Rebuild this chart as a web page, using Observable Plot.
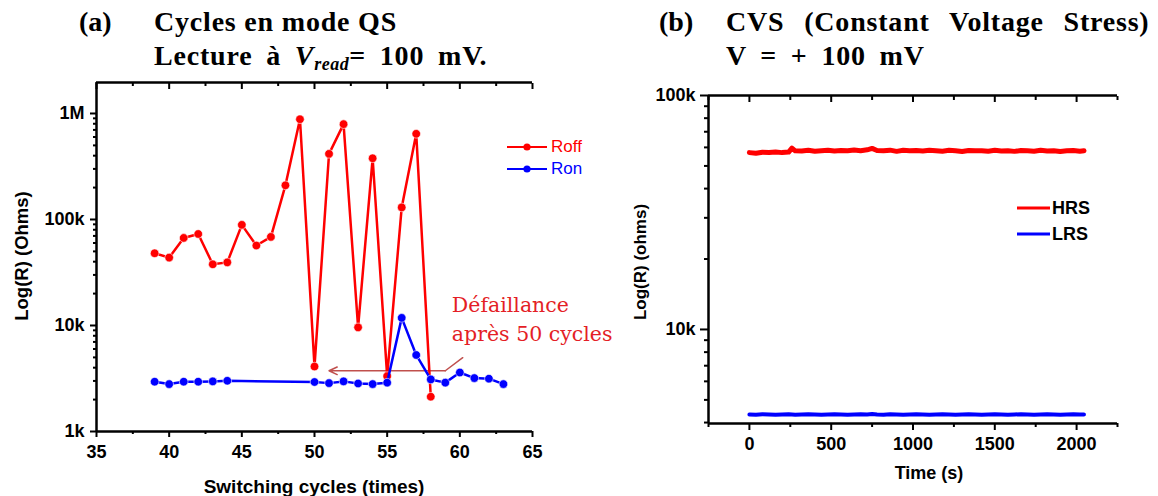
<!DOCTYPE html>
<html><head><meta charset="utf-8">
<script src="https://cdn.jsdelivr.net/npm/d3@7"></script>
<script src="https://cdn.jsdelivr.net/npm/@observablehq/plot@0.6"></script>
<style>
body{margin:0;background:#fff;}
#root{position:relative;width:1158px;height:496px;overflow:hidden;background:#fff;font-family:"Liberation Sans",Arial,sans-serif;}
.abs{position:absolute;white-space:nowrap;}
.ttl{font-family:"Liberation Serif","Times New Roman",serif;font-weight:bold;font-size:28px;color:#000;line-height:31px;height:31px;letter-spacing:0.8px;}
.lab{font-family:"Liberation Sans",Arial,sans-serif;font-weight:bold;color:#000;}
</style></head>
<body><div id="root"></div>
<script>
// ---------- Panel (a) data ----------
const roffCycles = [39,40,41,42,43,44,45,46,47,48,49,50,51,52,53,54,55,56,57,58];
const roffValues = [48000,43700,67000,73000,37800,39400,89000,56800,68500,210000,883000,4100,416000,793000,9600,378000,3330,130000,643000,2130];
const ronCycles = [39,40,41,42,43,44,50,51,52,53,54,55,56,57,58,59,60,61,62,63];
const ronValues = [2950,2800,2950,2950,2970,3010,2930,2860,2970,2840,2800,2890,11800,5270,3100,2890,3600,3190,3150,2800];
const xTicksA = [35,40,45,50,55,60,65];
const xMinorA = [37.5,42.5,47.5,52.5,57.5,62.5];
const yTicksA = [1e3,1e4,1e5,1e6];
const yTickLabelsA = ["1k","10k","100k","1M"];
const yMinorA = [2e3,3e3,4e3,5e3,6e3,7e3,8e3,9e3,2e4,3e4,4e4,5e4,6e4,7e4,8e4,9e4,2e5,3e5,4e5,5e5,6e5,7e5,8e5,9e5];
const xDomainA = [35,65];
const yDomainA = [1000,1.96e6];
const annotText = ["Défaillance","après 50 cycles"];
const annotTextX = [59.45,59.45];
const annotTextY = [15400,8300];
const annotLeaderX = [60.2,59.0];
const annotLeaderY = [4970,3740];
const annotArrow = {x1:59.0, y1:3740, x2:51.0, y2:3740};

// ---------- Panel (b) data ----------
const timeS = [0,40,80,120,160,200,240,260,280,320,360,400,440,480,520,560,600,640,680,720,750,780,820,860,900,940,980,1020,1060,1100,1140,1180,1220,1260,1300,1340,1380,1420,1460,1500,1540,1580,1620,1660,1700,1740,1780,1820,1860,1900,1940,1980,2020,2045];
const hrsValues = [57000,56600,57200,57100,57400,57000,57300,59600,58000,57900,58300,57800,58100,58400,57900,58200,58000,58500,58100,58600,59400,58200,58000,58400,57700,58300,58100,58200,57900,58400,58100,57800,58300,58000,57600,58200,58000,58100,57800,58300,57900,58100,57700,58200,58000,57800,58300,57900,58100,57600,58000,58200,57800,58100];
const lrsValues = [4330,4320,4340,4330,4320,4330,4340,4330,4320,4330,4340,4330,4320,4330,4340,4330,4320,4330,4340,4330,4350,4330,4320,4340,4330,4320,4330,4340,4330,4320,4330,4340,4330,4320,4330,4340,4330,4320,4330,4340,4330,4320,4330,4340,4330,4320,4330,4340,4330,4320,4330,4340,4330,4330];
const xTicksB = [0,500,1000,1500,2000];
const xMinorB = [-250,250,750,1250,1750,2250];
const yTicksB = [1e4,1e5];
const yTickLabelsB = ["10k","100k"];
const yMinorB = [4e3,5e3,6e3,7e3,8e3,9e3,2e4,3e4,4e4,5e4,6e4,7e4,8e4,9e4];
const xDomainB = [-250,2250];
const yDomainB = [3963,1e5];

const root = document.getElementById("root");
const axisStyle = {fontFamily:"Liberation Sans, Arial, sans-serif", fontSize:"18px", fontWeight:"bold", color:"#000", background:"transparent", overflow:"visible"};

// ---------- Chart (a) ----------
const roff = roffCycles.map((c,i)=>({x:c,y:roffValues[i]}));
const ron = ronCycles.map((c,i)=>({x:c,y:ronValues[i]}));
const fmtA = d => yTickLabelsA[yTicksA.indexOf(d)];
const chartA = Plot.plot({
  width:580, height:426, marginLeft:96, marginRight:48, marginTop:12, marginBottom:65,
  style: axisStyle,
  x:{domain:xDomainA},
  y:{type:"log", domain:yDomainA},
  marks:[
    Plot.axisX({ticks:xTicksA, tickFormat:d=>String(d), tickSize:6, tickPadding:8, strokeWidth:2, label:null, fontSize:18}),
    Plot.axisX({ticks:xMinorA, tickSize:3, tickFormat:()=>"", strokeWidth:2, label:null}),
    Plot.axisX({anchor:"top", ticks:xTicksA, tickSize:-6, tickFormat:()=>"", strokeWidth:2, label:null}),
    Plot.axisX({anchor:"top", ticks:xMinorA, tickSize:-3, tickFormat:()=>"", strokeWidth:2, label:null}),
    Plot.axisY({ticks:yTicksA, tickFormat:fmtA, tickSize:6, tickPadding:6, strokeWidth:2, label:null, fontSize:18}),
    Plot.axisY({ticks:yMinorA, tickSize:3, tickFormat:()=>"", strokeWidth:2, label:null}),
    Plot.ruleY([yDomainA[0]], {stroke:"#000", strokeWidth:2.5}),
    Plot.ruleY([yDomainA[1]], {stroke:"#000", strokeWidth:2.5}),
    Plot.ruleX([xDomainA[0]], {stroke:"#000", strokeWidth:2.5}),
    Plot.line(annotLeaderX.map((x,i)=>({x, y:annotLeaderY[i]})), {x:"x", y:"y", stroke:"#c0504d", strokeWidth:1.5}),
    Plot.arrow([annotArrow], {x1:"x1", y1:"y1", x2:"x2", y2:"y2", stroke:"#c0504d", strokeWidth:1.5, headLength:9, headAngle:50}),
    Plot.line(roff, {x:"x", y:"y", stroke:"#ff0000", strokeWidth:2.5}),
    Plot.dot(roff, {x:"x", y:"y", r:4.3, fill:"#ff0000", stroke:"#fff", strokeWidth:0.6}),
    Plot.line(ron, {x:"x", y:"y", stroke:"#0000ff", strokeWidth:2.5}),
    Plot.dot(ron, {x:"x", y:"y", r:4.3, fill:"#0000ff", stroke:"#fff", strokeWidth:0.6}),
    Plot.text(annotText, {x:(d,i)=>annotTextX[i], y:(d,i)=>annotTextY[i], text:d=>d, textAnchor:"start", fill:"#e41e26", fontFamily:"DejaVu Serif, serif", fontWeight:"normal", fontSize:20.5})
  ]
});
chartA.style.position = "absolute"; chartA.style.left = "0px"; chartA.style.top = "70px";
root.appendChild(chartA);

// ---------- Chart (b) ----------
const hrs = timeS.map((t,i)=>({x:t,y:hrsValues[i]}));
const lrs = timeS.map((t,i)=>({x:t,y:lrsValues[i]}));
const fmtB = d => yTickLabelsB[yTicksB.indexOf(d)];
const chartB = Plot.plot({
  width:578, height:426, marginLeft:128, marginRight:41, marginTop:25, marginBottom:73,
  style: axisStyle,
  x:{domain:xDomainB},
  y:{type:"log", domain:yDomainB},
  marks:[
    Plot.axisX({ticks:xTicksB, tickFormat:d=>String(d), tickSize:7, tickPadding:7, strokeWidth:2, label:null, fontSize:18}),
    Plot.axisX({ticks:xMinorB, tickSize:4, tickFormat:()=>"", strokeWidth:2, label:null}),
    Plot.axisX({anchor:"top", ticks:xTicksB, tickSize:-6, tickFormat:()=>"", strokeWidth:2, label:null}),
    Plot.axisX({anchor:"top", ticks:xMinorB, tickSize:-4, tickFormat:()=>"", strokeWidth:2, label:null}),
    Plot.axisY({ticks:yTicksB, tickFormat:fmtB, tickSize:8, tickPadding:5, strokeWidth:2, label:null, fontSize:18}),
    Plot.axisY({ticks:yMinorB, tickSize:4, tickFormat:()=>"", strokeWidth:2, label:null}),
    Plot.ruleY([yDomainB[0]], {stroke:"#000", strokeWidth:2.5}),
    Plot.ruleY([yDomainB[1]], {stroke:"#000", strokeWidth:2.5}),
    Plot.ruleX([xDomainB[0]], {stroke:"#000", strokeWidth:2.5}),
    Plot.line(hrs, {x:"x", y:"y", stroke:"#ff0000", strokeWidth:5}),
    Plot.line(lrs, {x:"x", y:"y", stroke:"#0000ff", strokeWidth:4})
  ]
});
chartB.style.position = "absolute"; chartB.style.left = "580px"; chartB.style.top = "70px";
root.appendChild(chartB);

// ---------- HTML text: titles, axis labels, legends ----------
function addDiv(html, css, cls){
  const d = document.createElement("div");
  d.className = "abs " + (cls||"");
  d.innerHTML = html;
  Object.assign(d.style, css);
  root.appendChild(d);
  return d;
}
addDiv("(a)", {left:"79px", top:"6px", letterSpacing:"0px"}, "ttl");
addDiv("Cycles en mode QS", {left:"154px", top:"6px"}, "ttl");
addDiv("Lecture à <i>V<sub style='font-size:18px;vertical-align:-5px;letter-spacing:0.5px'>read</sub></i>= 100 mV.", {left:"154px", top:"40px", wordSpacing:"6px"}, "ttl");
addDiv("(b)", {left:"659px", top:"6px", letterSpacing:"0px"}, "ttl");
addDiv("CVS (Constant Voltage Stress)", {left:"726px", top:"6px", wordSpacing:"12px"}, "ttl");
addDiv("V = + 100 mV", {left:"726px", top:"40px", wordSpacing:"6px"}, "ttl");

addDiv("Switching cycles (times)", {left:"314px", top:"476px", fontSize:"19px", transform:"translateX(-50%)"}, "lab");
addDiv("Time (s)", {left:"929px", top:"463px", fontSize:"18px", transform:"translateX(-50%)"}, "lab");
addDiv("Log(R) (Ohms)", {left:"22px", top:"256px", fontSize:"18.5px", transform:"translate(-50%,-50%) rotate(-90deg)"}, "lab");
addDiv("Log(R) (ohms)", {left:"641px", top:"262px", fontSize:"17px", transform:"translate(-50%,-50%) rotate(-90deg)"}, "lab");

// legends
const legendA = [{label:"Roff", color:"#ff0000", y:147},{label:"Ron", color:"#0000ff", y:169}];
legendA.forEach(e=>{
  addDiv(`<svg width="44" height="12"><line x1="1" y1="6" x2="41" y2="6" stroke="${e.color}" stroke-width="2"/><circle cx="21" cy="6" r="3.6" fill="${e.color}"/></svg>`, {left:"506px", top:(e.y-6)+"px", lineHeight:"0"});
  addDiv(e.label, {left:"551px", top:(e.y-10)+"px", fontSize:"17px", color:e.color, lineHeight:"20px"}, "");
});
const legendB = [{label:"HRS", color:"#ff0000", y:208},{label:"LRS", color:"#0000ff", y:234}];
legendB.forEach(e=>{
  addDiv(`<svg width="36" height="8"><line x1="1" y1="4" x2="34" y2="4" stroke="${e.color}" stroke-width="3"/></svg>`, {left:"1016px", top:(e.y-4)+"px", lineHeight:"0"});
  addDiv(e.label, {left:"1052px", top:(e.y-10)+"px", fontSize:"18px", lineHeight:"20px"}, "lab");
});
</script>
</body></html>
